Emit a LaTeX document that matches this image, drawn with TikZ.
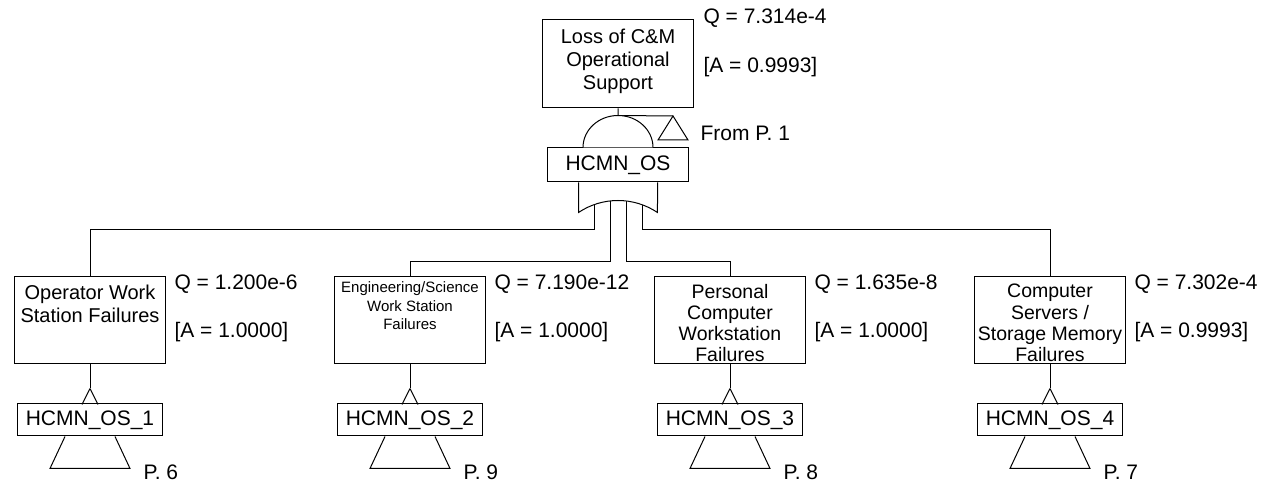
\documentclass[tikz,border=0pt]{standalone}
\usepackage{fontspec}
\setmainfont{Liberation Sans}
\usetikzlibrary{positioning}
\newcommand{\evtext}[1]{\parbox[t][73pt][t]{151pt}{\centering\fontsize{20}{23}\selectfont\rule{0pt}{16pt}#1}}
\newcommand{\evtall}[1]{\parbox[t][73pt][t]{151pt}{\centering\fontsize{19.5}{21.2}\selectfont\rule{0pt}{14pt}#1}}
\newcommand{\evsmall}[1]{\parbox[t][79pt][t]{151pt}{\centering\fontsize{15}{18.3}\selectfont\rule{0pt}{12pt}#1}}
\tikzset{
x=1pt, y=1pt, % one unit is one pixel of the sheet
node distance=320pt, % spacing between the four branches
every node/.style={font=\fontsize{21}{25}\selectfont}, % labels in the sans font
evt/.style={draw, fill=white, inner sep=0pt, minimum width=151pt, minimum height=87pt}, % event boxes
gatebox/.style={draw, fill=white, inner sep=0pt, minimum width=141pt, minimum height=34pt}, % gate name
xferbox/.style={draw, fill=white, inner sep=0pt, minimum width=145pt, minimum height=32pt}, % transfer name
val/.style={anchor=base west, inner sep=0pt}, % Q and A values
gate/.style={draw, fill=white}, % gate symbols
}

\begin{document}
\begin{tikzpicture}[line width=1pt]
            \useasboundingbox (0,0) rectangle (1261,487);
            \node[evt, minimum height=88pt] (top) at (618,423) {\evtext{Loss of C\&M\\Operational\\Support}};
            \node[val] (topq) at ([xshift=9pt,yshift=-3.7pt]top.north east) {Q = 7.314e-4};
            \node[val] (topa) at ([xshift=9pt,yshift=-52.7pt]top.north east) {[A = 0.9993]};
            \node[gatebox] (g) at (618,322) {HCMN\_OS};
            \coordinate (andtop) at ([yshift=32pt]g.north);
            \coordinate (frm) at (673,371);
            \coordinate (orin) at ([yshift=-15pt]g.south);
            \node[val] (frmtxt) at (700,346.3) {From P. 1};

            % the four branches
            \node[evt] (ev1) at (90,166.5) {\evtext{Operator Work\\Station Failures}};
            \node[evt, right of=ev1] (ev2) {\evsmall{Engineering/Science\\Work Station\\Failures}};
            \node[evt, right of=ev2] (ev3) {\evtall{Personal\\Computer\\Workstation\\Failures}};
            \node[evt, right of=ev3] (ev4) {\evtall{Computer\\Servers /\\Storage Memory\\Failures}};

            \draw (top.south) -- (andtop) -- (frm);
            \draw (frm) -- ++(-15,-24) -- ++(30,0) -- cycle;
            \draw[gate] ([xshift=-35pt]g.north) arc[start angle=180, end angle=0, x radius=35, y radius=32];

            \draw ([xshift=-24pt]orin) -- ++(0,-32) -| (ev1.north);
            \draw ([xshift=-8pt]orin) -- ++(0,-64) -| (ev2.north);
            \draw ([xshift=8pt]orin) -- ++(0,-64) -| (ev3.north);
            \draw ([xshift=24pt]orin) -- ++(0,-32) -| (ev4.north);
            \draw[gate] ([xshift=-39.5pt]g.south) -- ++(0,-30) arc[start angle=123.8, end angle=56.2, radius=71] -- ([xshift=39.5pt]g.south);

            \foreach \i/\q/\a/\p in {1/1.200e-6/1.0000/6, 2/7.190e-12/1.0000/9, 3/1.635e-8/1.0000/8, 4/7.302e-4/0.9993/7} {
                \node[val] (q\i) at ([xshift=8pt,yshift=-13.2pt]ev\i.north east) {Q = \q};
                \node[val] (a\i) at ([xshift=8pt,yshift=-60.7pt]ev\i.north east) {[A = \a]};
                \node[xferbox, below of=ev\i, node distance=99.5pt] (x\i) {HCMN\_OS\_\i};
                \draw (ev\i.south) -- ++(0,-24) coordinate (t\i);
                \draw (t\i) -- ++(-8,-16) (t\i) -- ++(8,-16);
                \draw ([xshift=-25pt]x\i.south) -- ++(-15,-32) -- ++(80,0) -- ++(-15,32);
                \node[val] (p\i) at ([xshift=53pt,yshift=-43.5pt]x\i.south) {P. \p};
            }
\end{tikzpicture}
\end{document}
